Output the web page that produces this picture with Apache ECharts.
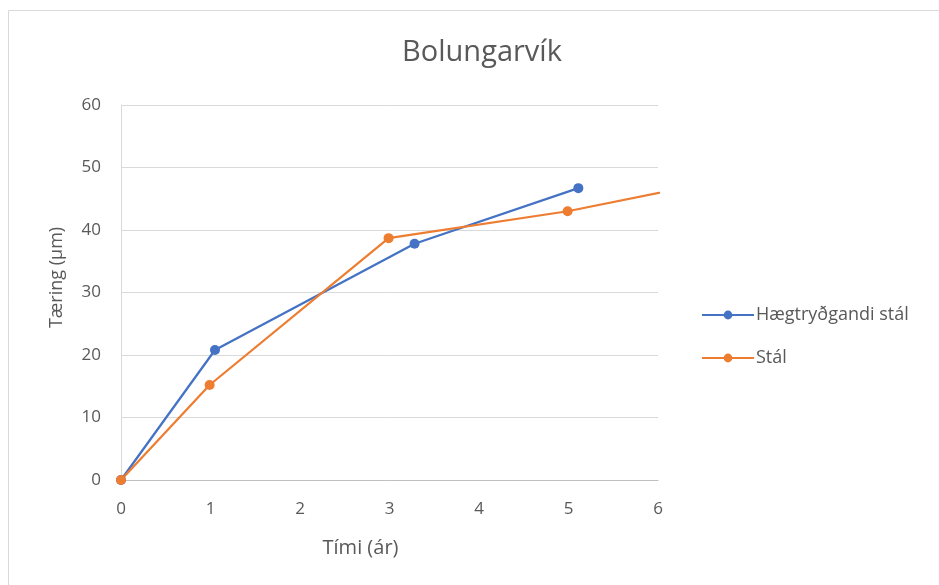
<!DOCTYPE html>
<html>
<head>
<meta charset="utf-8">
<script src="https://cdn.jsdelivr.net/npm/echarts@6/dist/echarts.min.js"></script>
<style>html,body{margin:0;padding:0;background:#fff}#c{width:939px;height:585px}</style>
</head>
<body>
<div id="c"></div>
<script>
const titleText = "Bolungarvík";
const xName = "Tími (ár)";
const yName = "Tæring (µm)";
const seriesNames = ["Hægtryðgandi stál", "Stál"];
const blueX = [0, 1.05, 3.28, 5.11];
const blueY = [0, 20.8, 37.8, 46.7];
const orangeX = [0, 0.99, 2.99, 4.99, 7];
const orangeY = [0, 15.2, 38.7, 43.0, 48.8];

const font = "'Open Sans', 'Noto Sans', sans-serif";
const grey = '#595959';
const chart = echarts.init(document.getElementById('c'));
chart.setOption({
  animation: false,
  textStyle: {fontFamily: font},
  graphic: [{type: 'rect', shape: {x: 8.5, y: 10.5, width: 960, height: 600}, style: {fill: 'none', stroke: '#d9d9d9', lineWidth: 1}}],
  title: {text: titleText, left: 477, top: 33, textAlign: 'center',
    textStyle: {fontFamily: font, fontSize: 29, fontWeight: 'normal', color: grey}},
  legend: {orient: 'vertical', left: 696, top: 301, itemGap: 25, itemWidth: 52, itemHeight: 11,
    textStyle: {fontFamily: font, fontSize: 18, color: grey, padding: [0, 0, 0, -3]},
    data: seriesNames},
  grid: {left: 121, right: 281, top: 105, bottom: 105},
  xAxis: {type: 'value', min: 0, max: 6, interval: 1, name: xName, nameLocation: 'middle', nameGap: 58,
    nameTextStyle: {fontSize: 20, color: grey, padding: [0, 58, 0, 0]},
    axisLine: {show: true, onZero: false, lineStyle: {color: '#bfbfbf'}},
    axisTick: {show: false},
    axisLabel: {fontSize: 17, color: grey, margin: 21},
    splitLine: {show: false}},
  yAxis: {type: 'value', min: 0, max: 60, interval: 10, name: yName, nameLocation: 'middle', nameGap: 55,
    nameTextStyle: {fontSize: 18, color: grey, padding: [0, 0, 0, 30]},
    axisLine: {show: true, lineStyle: {color: '#d9d9d9'}},
    axisTick: {show: false},
    axisLabel: {fontSize: 17, color: grey, margin: 20},
    splitLine: {lineStyle: {color: '#d9d9d9'}}},
  series: [
    {name: seriesNames[0], type: 'line', clip: true, symbol: 'circle', symbolSize: 10,
      data: blueX.map((x, i) => [x, blueY[i]]),
      itemStyle: {color: '#4472C4'}, lineStyle: {color: '#4472C4', width: 2.25}},
    {name: seriesNames[1], type: 'line', clip: true, symbol: 'circle', symbolSize: 10,
      data: orangeX.map((x, i) => [x, orangeY[i]]),
      itemStyle: {color: '#ED7D31'}, lineStyle: {color: '#ED7D31', width: 2.25}}
  ]
});
</script>
</body>
</html>
